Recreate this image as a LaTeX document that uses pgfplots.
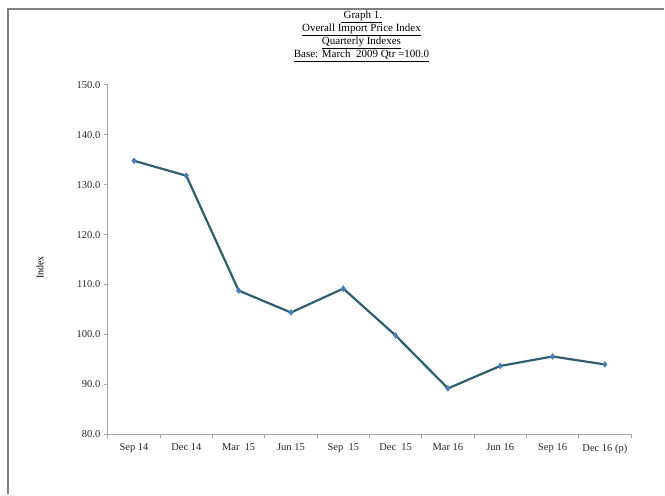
\documentclass[border=0pt]{standalone}
\usepackage{pgfplots}
\pgfplotsset{compat=1.18}
\usepackage{fontspec}
\setmainfont{Liberation Serif}
\definecolor{linecol}{HTML}{2F5F6F}
\definecolor{markcol}{HTML}{4A7EBB}
\definecolor{axgray}{HTML}{A6A6A6}
\definecolor{framegray}{HTML}{808080}
\begin{document}
\begin{tikzpicture}
\path (0pt,0pt) rectangle (665pt,495pt);
\draw[framegray, line width=2pt] (8pt,0pt) -- (8pt,486pt) -- (665pt,486pt);
\begin{axis}[
  at={(108pt,60pt)}, anchor=south west,
  scale only axis, width=524pt, height=350pt,
  xmin=-0.5, xmax=9.5, ymin=80, ymax=150,
  axis x line*=bottom, axis y line*=left,
  axis line style={axgray, line width=0.8pt},
  xtick={0,...,9},
  xticklabels={Sep 14, Dec 14, Mar\ \ 15, Jun 15, Sep\ \ 15, Dec\ \ 15, Mar 16, Jun 16, Sep 16, Dec 16 (p)},
  major x tick style={draw=none},
  minor xtick={-0.5,0.5,...,9.5},
  minor x tick style={axgray, line width=0.8pt},
  minor tick length=4pt,
  ytick={80,90,...,150},
  major y tick style={axgray, line width=0.8pt},
  major tick length=4pt,
  tick align=outside,
  yticklabel style={/pgf/number format/.cd, fixed, fixed zerofill, precision=1, assume math mode=true},
  ticklabel style={font=\fontsize{10.5}{12}\selectfont, text=black!85},
  xticklabel style={yshift=-2pt},
  clip=false,
]
\addplot[linecol, line width=2.2pt, mark=diamond*, mark size=3pt, mark options={fill=markcol, draw=markcol, line width=0.4pt}]
coordinates {(0,134.8) (1,131.8) (2,108.8) (3,104.4) (4,109.2) (5,99.8) (6,89.2) (7,93.7) (8,95.6) (9,94.0)};
\end{axis}
\node[rotate=90, font=\fontsize{10}{12}\selectfont] at (40pt,227pt) {Index};
\node[align=center, font=\fontsize{11}{13}\selectfont, anchor=north] at (362pt,487.5pt) {\underline{\ Graph 1.}\\\underline{Overall Import Price Index}\\\underline{Quarterly Indexes}\\\underline{Base: March\ \ 2009 Qtr =100.0}};
\end{tikzpicture}
\end{document}
